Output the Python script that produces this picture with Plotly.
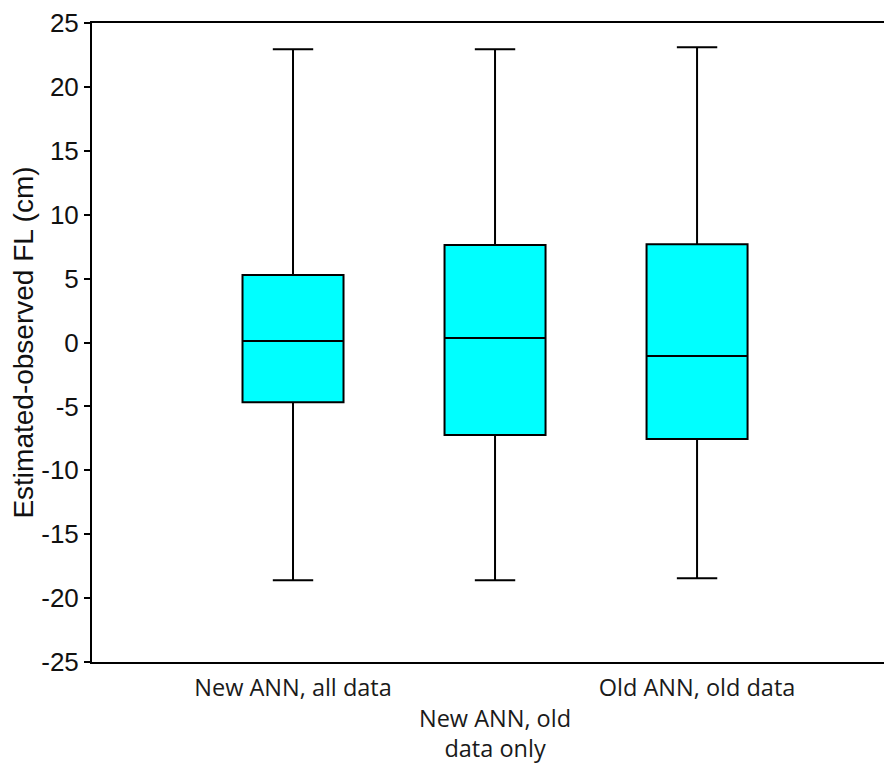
import plotly.graph_objects as go

categories = ["New ANN, all data", "New ANN, old data only", "Old ANN, old data"]
tick_labels = ["New ANN, all data", " <br>New ANN, old<br>data only", "Old ANN, old data"]
x_pos = [0, 1, 2]
q1 = [-4.68, -7.24, -7.55]
median = [0.12, 0.35, -1.06]
q3 = [5.28, 7.63, 7.68]
lower = [-18.6, -18.6, -18.45]
upper = [22.95, 22.95, 23.1]
y_ticks = list(range(-25, 26, 5))
y_tick_text = [str(v) for v in y_ticks]  # plain hyphen minus

fig = go.Figure()
fig.add_trace(go.Box(
    x=x_pos, q1=q1, median=median, q3=q3,
    lowerfence=lower, upperfence=upper,
    width=0.5, whiskerwidth=0.4,
    fillcolor="#00FFFF",
    line=dict(color="#000000", width=2),
    boxpoints=False, showlegend=False, hoverinfo="skip",
))

# page body has an 8px margin, so the figure is sized/offset to compensate
fig.update_layout(
    width=884, height=757,
    margin=dict(l=84, r=0, t=15, b=103, autoexpand=False),
    paper_bgcolor="white", plot_bgcolor="white",
    showlegend=False,
    xaxis=dict(
        range=[-0.995, 2.965], tickmode="array", tickvals=x_pos, ticktext=tick_labels,
        showline=True, linecolor="#000000", linewidth=2, mirror=True,
        showgrid=False, zeroline=False, ticks="", ticklen=0, automargin=False,
        ticklabelstandoff=4,
        tickfont=dict(family="Open Sans, Lato, sans-serif", size=23.5, color="#1a1a1a"),
        fixedrange=True,
    ),
    yaxis=dict(
        range=[-25, 25], tickmode="array", tickvals=y_ticks, ticktext=y_tick_text,
        showline=True, linecolor="#000000", linewidth=2, automargin=False,
        showgrid=False, zeroline=False, ticks="outside", ticklen=6, tickwidth=2, tickcolor="#000000",
        tickfont=dict(family="Liberation Sans, Arial, sans-serif", size=26, color="#111111"),
        title=dict(text="Estimated-observed FL (cm)", standoff=4,
                   font=dict(family="Liberation Sans, Arial, sans-serif", size=28, color="#111111")),
        fixedrange=True,
    ),
)

fig.write_html("out.html")
